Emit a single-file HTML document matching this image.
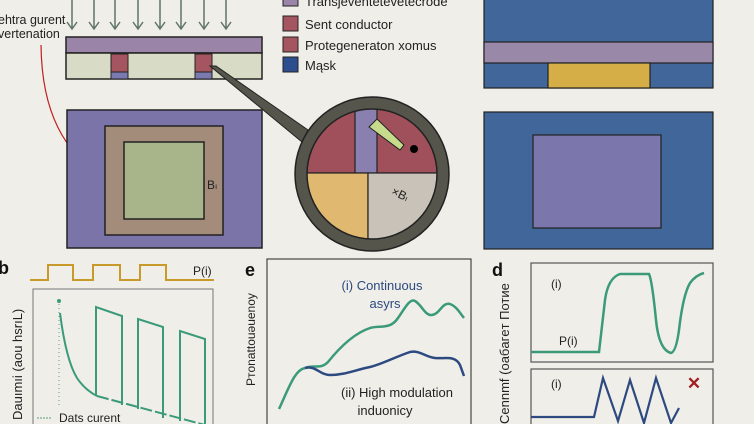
<!DOCTYPE html>
<html><head><meta charset="utf-8"><style>
html,body{margin:0;padding:0;background:#f0eee8;}
svg{display:block;font-family:"Liberation Sans",sans-serif;}
</style></head><body>
<svg width="754" height="424" viewBox="0 0 754 424" xmlns="http://www.w3.org/2000/svg">
<rect width="754" height="424" fill="#f0eee8"/>
<!-- arrows -->
<g stroke="#5f7565" stroke-width="1.5" fill="none">
<path d="M72 0V28M67 22L72 29L77 22"/><path d="M94 0V28M89 22L94 29L99 22"/>
<path d="M115 0V28M110 22L115 29L120 22"/><path d="M138 0V28M133 22L138 29L143 22"/>
<path d="M160 0V28M155 22L160 29L165 22"/><path d="M181 0V28M176 22L181 29L186 22"/>
<path d="M204 0V28M199 22L204 29L209 22"/><path d="M226 0V28M221 22L226 29L231 22"/>
</g>
<text x="-2" y="24" font-size="12.5" fill="#222">ehtra gurent</text>
<text x="-2" y="38" font-size="12.5" fill="#222">vertenation</text>
<!-- top bar -->
<rect x="66" y="37" width="196" height="16" fill="#9a85a8" stroke="#222" stroke-width="1.5"/>
<rect x="66" y="53" width="196" height="26" fill="#d8dcc6" stroke="#222" stroke-width="1.5"/>
<rect x="111" y="54" width="17" height="18" fill="#a55560" stroke="#222"/>
<rect x="111" y="72" width="17" height="7" fill="#7a79b0" stroke="#222"/>
<rect x="195" y="54" width="17" height="18" fill="#a55560" stroke="#222"/>
<rect x="195" y="72" width="17" height="7" fill="#7a79b0" stroke="#222"/>
<!-- red curve -->
<path d="M41 45 Q42 140 102 175" stroke="#c02020" stroke-width="1.2" fill="none"/>
<!-- big square -->
<rect x="67" y="110" width="195" height="138" fill="#7a74a8" stroke="#222" stroke-width="1.5"/>
<rect x="105" y="126" width="118" height="109" fill="#a38c7a" stroke="#222" stroke-width="1.5"/>
<rect x="124" y="142" width="80" height="77" fill="#a8b58a" stroke="#222" stroke-width="1.5"/>
<text x="207" y="189" font-size="12" fill="#222">B<tspan font-size="8">ı</tspan></text>
<!-- handle -->
<polygon points="210,66 216,66 308,130 302,142" fill="#55554c" stroke="#222"/>
<!-- magnifier -->
<circle cx="372" cy="174" r="77" fill="#55554c" stroke="#222" stroke-width="1.5"/>
<clipPath id="c"><circle cx="372" cy="174" r="65"/></clipPath>
<g clip-path="url(#c)" stroke="#222" stroke-width="1.2">
<rect x="300" y="100" width="150" height="73" fill="#a0505a"/>
<rect x="355" y="100" width="22" height="73" fill="#8a80b0"/>
<rect x="300" y="173" width="68" height="80" fill="#e0b870"/>
<rect x="368" y="173" width="80" height="80" fill="#c8c2b8"/>
</g>
<circle cx="372" cy="174" r="65" fill="none" stroke="#222" stroke-width="1.5"/>
<polygon points="369,127 377,119 404,145 400,150" fill="#c6dc8c" stroke="#222"/>
<circle cx="414" cy="149" r="4" fill="#000"/>
<text x="392" y="198" font-size="12" fill="#222" transform="rotate(25 400 193)">×B<tspan font-size="8">ı</tspan></text>
<!-- legend -->
<rect x="283" y="-7" width="15" height="13" fill="#9a85a8" stroke="#222"/>
<text x="305" y="6" font-size="13" fill="#222">Transjeventetevetecrode</text>
<rect x="283" y="16" width="15" height="15" fill="#a55560" stroke="#222"/>
<text x="305" y="29" font-size="13" fill="#222">Sent conductor</text>
<rect x="283" y="37" width="15" height="15" fill="#a55560" stroke="#222"/>
<text x="305" y="50" font-size="13" fill="#222">Protegeneraton xomus</text>
<rect x="283" y="57" width="15" height="15" fill="#2c4e8e" stroke="#222"/>
<text x="305" y="70" font-size="13" fill="#222">Mąsk</text>
<!-- right top -->
<rect x="484" y="-2" width="229" height="90" fill="#40669a" stroke="#222" stroke-width="1.2"/>
<rect x="484" y="42" width="229" height="21" fill="#9a88a8" stroke="#222" stroke-width="1.2"/>
<rect x="548" y="63" width="102" height="25" fill="#d6ae48" stroke="#222" stroke-width="1.2"/>
<rect x="484" y="112" width="229" height="137" fill="#40669a" stroke="#222" stroke-width="1.2"/>
<rect x="533" y="135" width="128" height="93" fill="#7b76ac" stroke="#222" stroke-width="1.2"/>
<!-- panel b -->
<text x="-2" y="274" font-size="18" font-weight="bold" fill="#111">b</text>
<path d="M30 280H48V265H73V280H93V265H120V280H140V265H166V280H214" stroke="#c89a2a" stroke-width="2" fill="none"/>
<text x="193" y="275" font-size="12" fill="#222">P(i)</text>
<rect x="33" y="289" width="180" height="140" fill="none" stroke="#777" stroke-width="1"/>
<circle cx="59" cy="301" r="2" fill="#3a9a7a"/>
<path d="M59 304V405" stroke="#5aa08a" stroke-width="1" stroke-dasharray="1,3"/>
<path d="M60 313 Q66 360 77 378 Q85 390 97 396" stroke="#3a9a7a" stroke-width="2" fill="none"/>
<path d="M97 396 L205 425" stroke="#3a9a7a" stroke-width="2" stroke-dasharray="12,3" fill="none"/>
<path d="M96 396V307L122 316V405M138 409V319L163 327V418M180 421V331L205 339V425" stroke="#3a9a7a" stroke-width="2" fill="none"/>
<path d="M37 418H52" stroke="#8ab8a0" stroke-width="1.5" stroke-dasharray="2,1"/>
<text x="59" y="422" font-size="12" fill="#222">Dats curent</text>
<text x="0" y="0" font-size="13" fill="#222" transform="translate(22 420) rotate(-90)">Dauımıi (aou hsrıL)</text>
<!-- panel e -->
<text x="245" y="276" font-size="18" font-weight="bold" fill="#111">e</text>
<rect x="267" y="259" width="204" height="170" fill="none" stroke="#444" stroke-width="1.2"/>
<path d="M279 409 C290 385 295 370 305 368 C315 364 320 370 328 362 C340 347 355 333 370 328 C380 325 390 330 398 318 C405 308 410 298 415 301 C422 305 425 316 432 315 C440 314 442 302 450 304 C456 306 460 313 464 318" stroke="#3a9a7a" stroke-width="2.5" fill="none"/>
<path d="M305 368 C315 365 320 375 330 375 C345 375 355 370 370 367 C385 363 395 357 410 352 C420 350 425 357 435 358 C445 359 455 355 460 365 L464 376" stroke="#2c4a80" stroke-width="2.5" fill="none"/>
<text x="382" y="290" font-size="13" fill="#2c4a80" text-anchor="middle">(i) Continuous</text>
<text x="385" y="308" font-size="13" fill="#2c4a80" text-anchor="middle">asyrs</text>
<text x="397" y="397" font-size="13" fill="#222" text-anchor="middle">(ii) High modulation</text>
<text x="385" y="415" font-size="13" fill="#222" text-anchor="middle">induonicy</text>
<text x="0" y="0" font-size="12" fill="#222" transform="translate(255 386) rotate(-90)">Pтonattouəuenoy</text>
<!-- panel d -->
<text x="492" y="276" font-size="18" font-weight="bold" fill="#111">d</text>
<rect x="531" y="263" width="182" height="99" fill="none" stroke="#555" stroke-width="1.2"/>
<path d="M531 352H599 L605 300 Q608 278 620 274 L649 274 Q652 280 656 320 Q659 350 671 353 Q676 352 679 330 Q683 295 690 283 Q696 275 704 273" stroke="#3a9a7a" stroke-width="2.5" fill="none"/>
<text x="551" y="288" font-size="12" fill="#222">(i)</text>
<text x="559" y="345" font-size="12" fill="#222">P(i)</text>
<rect x="531" y="369" width="182" height="60" fill="none" stroke="#555" stroke-width="1.2"/>
<path d="M531 417H594 L603 378 L618 421 L630 380 L644 423 L656 378 L671 423 L679 408" stroke="#2c4a80" stroke-width="2.2" fill="none"/>
<text x="551" y="388" font-size="12" fill="#222">(i)</text>
<text x="694" y="389" font-size="17" font-weight="bold" fill="#a02020" text-anchor="middle">✕</text>
<text x="0" y="0" font-size="13" fill="#222" transform="translate(509 424) rotate(-90)">Cennmf (oaбaгeт Потие</text>
</svg>
</body></html>
